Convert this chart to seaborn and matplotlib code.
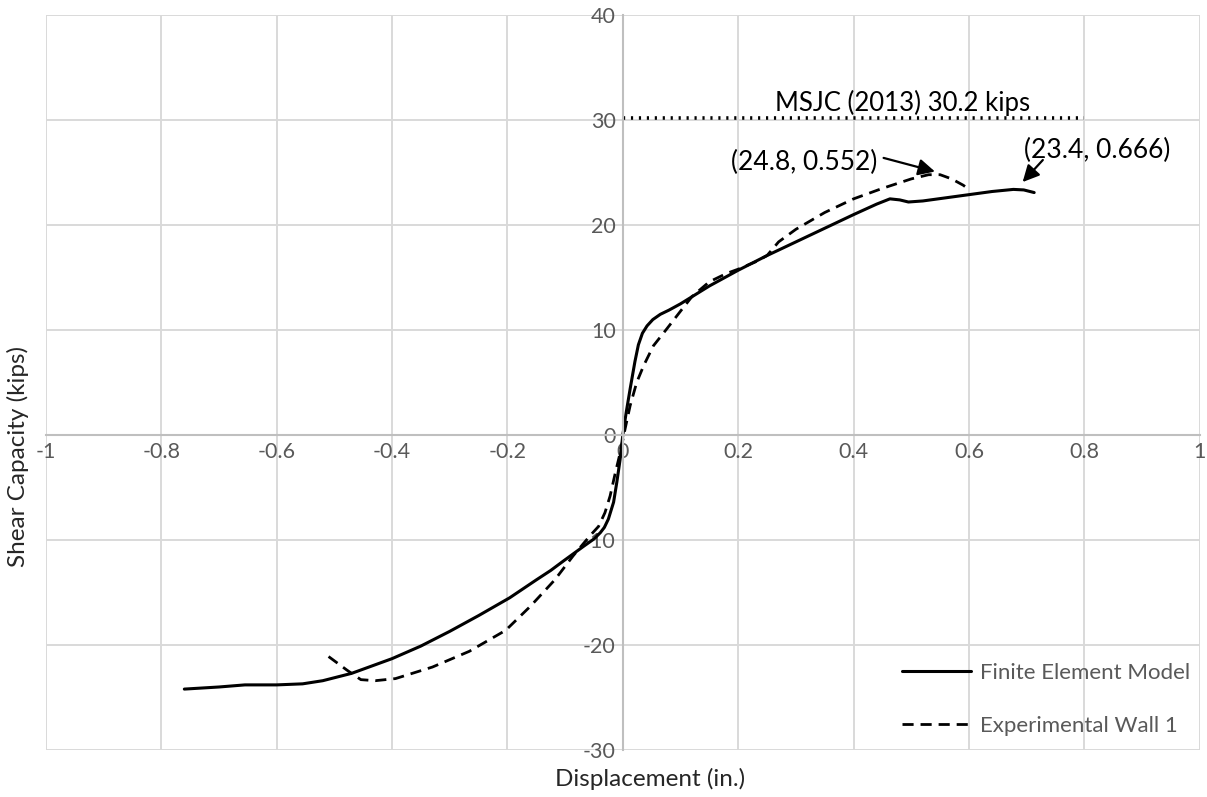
import pandas as pd
import seaborn as sns
import matplotlib.pyplot as plt

# Finite Element Model curve (displacement in., shear kips)
fem_disp = [-0.76, -0.70, -0.655, -0.60, -0.555, -0.52, -0.47, -0.40, -0.35, -0.30, -0.25,
            -0.196, -0.15, -0.125, -0.103, -0.068, -0.05, -0.039, -0.032, -0.025, -0.016,
            -0.0104, -0.0046, 0.0, 0.006, 0.0127, 0.021, 0.027, 0.034, 0.042, 0.052, 0.065,
            0.08, 0.10, 0.15, 0.20, 0.25, 0.30, 0.35, 0.40, 0.44, 0.463, 0.48, 0.495, 0.52,
            0.56, 0.60, 0.64, 0.677, 0.695, 0.713]
fem_shear = [-24.2, -24.0, -23.8, -23.8, -23.7, -23.4, -22.7, -21.3, -20.1, -18.7, -17.2,
             -15.5, -13.8, -12.9, -12.0, -10.6, -9.9, -9.3, -8.8, -8.0, -6.4,
             -4.5, -2.3, 0.0, 2.2, 4.4, 7.0, 8.6, 9.7, 10.4, 11.0, 11.5,
             11.9, 12.5, 14.2, 15.7, 17.1, 18.4, 19.7, 21.0, 22.0, 22.5, 22.4, 22.2, 22.3,
             22.6, 22.9, 23.2, 23.4, 23.35, 23.1]

# Experimental Wall 1 curve
exp_disp = [-0.51, -0.478, -0.454, -0.429, -0.394, -0.33, -0.266, -0.203, -0.16, -0.118,
            -0.086, -0.057, -0.042, -0.031, -0.022, -0.013, -0.0046, 0.004, 0.0127, 0.024,
            0.036, 0.053, 0.076, 0.10, 0.12, 0.15, 0.18, 0.20, 0.23, 0.25, 0.27, 0.30, 0.35,
            0.40, 0.45, 0.50, 0.53, 0.55, 0.57, 0.59, 0.60]
exp_shear = [-21.1, -22.4, -23.3, -23.4, -23.2, -22.1, -20.6, -18.6, -16.3, -13.8,
             -11.5, -9.6, -8.7, -7.4, -5.8, -3.6, -1.7, 0.6, 2.8, 5.0,
             6.6, 8.5, 10.1, 11.8, 13.2, 14.6, 15.4, 15.8, 16.5, 17.1, 18.4, 19.6, 21.2,
             22.5, 23.5, 24.4, 24.8, 24.8, 24.4, 23.8, 23.4]

# MSJC (2013) code capacity line
msjc_disp = [0.0, 0.8]
msjc_shear = [30.2, 30.2]

x_ticks = [-1, -0.8, -0.6, -0.4, -0.2, 0, 0.2, 0.4, 0.6, 0.8, 1]
x_labels = ["-1", "-0.8", "-0.6", "-0.4", "-0.2", "0", "0.2", "0.4", "0.6", "0.8", "1"]
y_ticks = [-30, -20, -10, 0, 10, 20, 30, 40]
y_labels = ["-30", "-20", "-10", "0", "10", "20", "30", "40"]

fem = pd.DataFrame({"disp": fem_disp, "shear": fem_shear})
exp = pd.DataFrame({"disp": exp_disp, "shear": exp_shear})
msjc = pd.DataFrame({"disp": msjc_disp, "shear": msjc_shear})

sns.set_theme(style="whitegrid")
plt.rcParams["font.family"] = ["Lato", "DejaVu Sans"]

fig = plt.figure(figsize=(12.07, 7.97), dpi=100)
ax = fig.add_axes([0.038, 0.059, 0.956, 0.922])

sns.lineplot(data=fem, x="disp", y="shear", ax=ax, color="black", lw=2.2,
             estimator=None, sort=False, label="Finite Element Model")
sns.lineplot(data=exp, x="disp", y="shear", ax=ax, color="black", lw=2.0,
             estimator=None, sort=False, linestyle=(0, (4, 2.5)), label="Experimental Wall 1")
sns.lineplot(data=msjc, x="disp", y="shear", ax=ax, color="black", lw=2.6,
             estimator=None, sort=False, linestyle=(0, (0.6, 1.6)), legend=False)

ax.set_xlim(-1, 1)
ax.set_ylim(-30, 40)
ax.set_xticks(x_ticks)
ax.set_xticklabels(x_labels)
ax.set_yticks(y_ticks)
ax.set_yticklabels(y_labels)

# Excel style axes crossing at the origin
ax.spines["left"].set_position(("data", 0))
ax.spines["bottom"].set_position(("data", 0))
ax.spines["top"].set_visible(False)
ax.spines["right"].set_visible(False)
for s in ["left", "bottom"]:
    ax.spines[s].set_color("#bfbfbf")
    ax.spines[s].set_linewidth(1.5)
ax.grid(True, color="#d9d9d9", lw=1.4)
ax.set_axisbelow(True)
ax.tick_params(axis="both", length=0, labelsize=15.5, labelcolor="#595959", pad=5)

ax.set_xlabel("Displacement (in.)", fontsize=17.5, color="#262626", va="center")
ax.set_ylabel("Shear Capacity (kips)", fontsize=17.5, color="#262626", va="center")
ax.xaxis.set_label_coords(0.524, -0.039)
ax.yaxis.set_label_coords(-0.024, 0.40)

ax.text(0.485, 31.6, "MSJC (2013) 30.2 kips", fontsize=18.5, ha="center", va="center", color="black")
ax.text(0.315, 26.0, "(24.8, 0.552)", fontsize=19, ha="center", va="center", color="black")
ax.text(0.823, 27.1, "(23.4, 0.666)", fontsize=19, ha="center", va="center", color="black")
arrow = dict(arrowstyle="-|>", color="black", lw=1.6, mutation_scale=25, shrinkA=0, shrinkB=0)
ax.annotate("", xy=(0.541, 25.1), xytext=(0.452, 26.4), arrowprops=arrow)
ax.annotate("", xy=(0.693, 24.1), xytext=(0.728, 26.2), arrowprops=arrow)

ax.legend(loc="lower left", bbox_to_anchor=(0.742, 0.019), frameon=False, fontsize=16,
          handlelength=3.1, handletextpad=0.4, labelspacing=1.5, borderpad=0,
          borderaxespad=0, labelcolor="#595959")

fig.savefig("out.png", dpi=100)
